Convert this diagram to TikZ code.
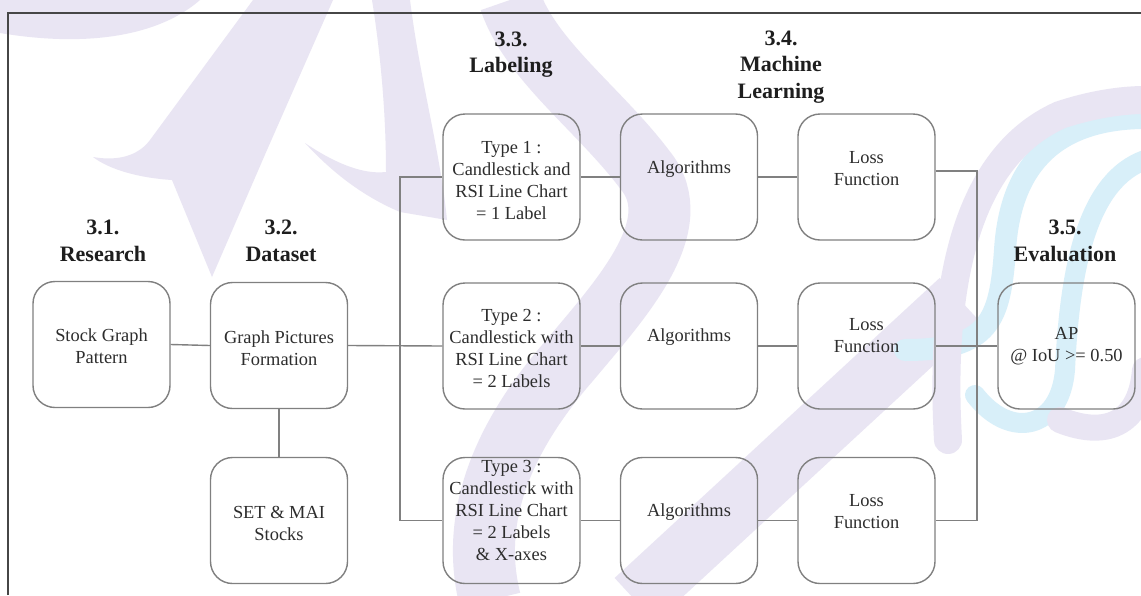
\documentclass[tikz,border=0pt]{standalone}
\usepackage{fontspec}
\setmainfont{Liberation Serif}
\begin{document}
\begin{tikzpicture}[x=1pt,y=-1pt,
  wmP/.style={fill=wmpurple,draw=none},
  wmPs/.style={draw=wmpurple,line cap=round},
  wmCs/.style={draw=wmcyan,line cap=round},
  box/.style={draw=boxgray,line width=1.4pt,rounded corners=22pt,minimum width=137pt,minimum height=126pt,inner sep=0pt},
  lbl/.style={align=center,text=txtgray,font=\fontsize{18.4}{22}\selectfont,inner sep=0pt},
  head/.style={align=center,text=headgray,font=\bfseries\fontsize{22}{26.5}\selectfont,inner sep=0pt},
  conn/.style={draw=boxgray,line width=1.4pt}]
\definecolor{wmpurple}{RGB}{233,229,243}
\definecolor{wmcyan}{RGB}{216,239,249}
\definecolor{boxgray}{RGB}{128,128,128}
\definecolor{txtgray}{RGB}{45,45,45}
\definecolor{headgray}{RGB}{30,30,30}
\definecolor{framegray}{RGB}{70,70,70}
\useasboundingbox (0,0) rectangle (1141,595);
\fill[white] (0,0) rectangle (1141,595);
% ---- watermark ----
\fill[wmP] (0,0) -- (200,0) .. controls (160,35) and (90,48) .. (0,33) -- cycle;
\fill[wmP] (253,0) -- (333,0) -- (267,150) -- (212,277) -- (172,180) .. controls (140,178) and (110,170) .. (93,157) .. controls (110,160) and (135,160) .. (150,140) -- cycle;
\fill[wmP] (372,0) -- (410,0) .. controls (420,80) and (440,150) .. (447,220) -- (400,212) .. controls (360,195) and (330,170) .. (305,143) .. controls (330,160) and (360,175) .. (386,172) .. controls (386,110) and (380,50) .. (372,0) -- cycle;
\draw[wmPs,line width=62pt,line cap=butt] (510,0) .. controls (530,60) and (600,110) .. (645,170) .. controls (690,225) and (620,300) .. (570,360) .. controls (500,440) and (470,520) .. (490,600);
\draw[wmPs,line width=60pt,line cap=butt] (960,300) -- (635,600);
\draw[wmCs,line width=22pt] (905,350) .. controls (990,350) and (1000,320) .. (1005,250) .. controls (1010,170) and (1050,120) .. (1141,118);
\draw[wmPs,line width=28pt] (948,440) .. controls (940,300) and (960,160) .. (1060,115) .. controls (1090,105) and (1120,100) .. (1145,100);
\draw[wmCs,line width=20pt] (975,395) .. controls (1010,440) and (1060,430) .. (1065,370) .. controls (1070,260) and (1090,180) .. (1145,160);
\draw[wmPs,line width=26pt] (1060,420) .. controls (1110,440) and (1141,420) .. (1145,370);
% ---- frame ----
\draw[framegray,line width=1.5pt] (8,595) -- (8,13) -- (1141,13);
% ---- headings ----
\node[head] (h1) at (103,241) {3.1.\\Research};
\node[head] (h2) at (281,241) {3.2.\\Dataset};
\node[head] (h3) at (511,54.5) {3.3.\\Labeling};
\node[head] (h4) at (781,67) {3.4.\\Machine\\Learning};
\node[head] (h5) at (1065,241) {3.5.\\Evaluation};
% ---- boxes ----
\node[box] (s1) at (101.5,344.5) {};
\node[box] (s2) at (279,345.5) {};
\node[box] (s3) at (279,520.5) {};
\node[box] (t1) at (511.5,177) {};
\node[box] (t2) at (511.5,346) {};
\node[box] (t3) at (511.5,520.5) {};
\node[box] (a1) at (689,177) {};
\node[box] (a2) at (689,346) {};
\node[box] (a3) at (689,520.5) {};
\node[box] (l1) at (866.5,177) {};
\node[box] (l2) at (866.5,346) {};
\node[box] (l3) at (866.5,520.5) {};
\node[box] (ap) at (1066.5,346) {};
% ---- labels ----
\node[lbl] (s1t) at (101.5,346) {Stock Graph\\Pattern};
\node[lbl] (s2t) at (279,348) {Graph Pictures\\Formation};
\node[lbl] (s3t) at (279,523) {SET \& MAI\\Stocks};
\node[lbl] (t1t) at (511.5,180.5) {Type 1 :\\Candlestick and\\RSI Line Chart\\= 1 Label};
\node[lbl] (t2t) at (511.5,348) {Type 2 :\\Candlestick with\\RSI Line Chart\\= 2 Labels};
\node[lbl] (t3t) at (511.5,510) {Type 3 :\\Candlestick with\\RSI Line Chart\\= 2 Labels\\\& X-axes};
\node[lbl] (a1t) at (689,169) {Algorithms};
\node[lbl] (a2t) at (689,337) {Algorithms};
\node[lbl] (a3t) at (689,512) {Algorithms};
\node[lbl] (l1t) at (866.5,168.5) {Loss\\Function};
\node[lbl] (l2t) at (866.5,336) {Loss\\Function};
\node[lbl] (l3t) at (866.5,512) {Loss\\Function};
\node[lbl] (apt) at (1066.5,346) {AP\\@ IoU >= 0.50};
% ---- connectors ----
\coordinate (busT) at (400,177);
\coordinate (busB) at (400,520.5);
\coordinate (rbT) at (977,171);
\coordinate (rbB) at (977,520.5);
\draw[conn] (s1.east) -- (s2.west);
\draw[conn] (s2.south) -- (s3.north);
\draw[conn] (s2.east) -- (t2.west);
\draw[conn] (t1.west) -- (busT) -- (busB) -- (t3.west);
\draw[conn] (t1.east) -- (a1.west);
\draw[conn] (t2.east) -- (a2.west);
\draw[conn] (t3.east) -- (a3.west);
\draw[conn] (a1.east) -- (l1.west);
\draw[conn] (a2.east) -- (l2.west);
\draw[conn] (a3.east) -- (l3.west);
\draw[conn] ([yshift=6pt]l1.east) -- (rbT) -- (rbB) -- (l3.east);
\draw[conn] (l2.east) -- (ap.west);
\end{tikzpicture}
\end{document}
